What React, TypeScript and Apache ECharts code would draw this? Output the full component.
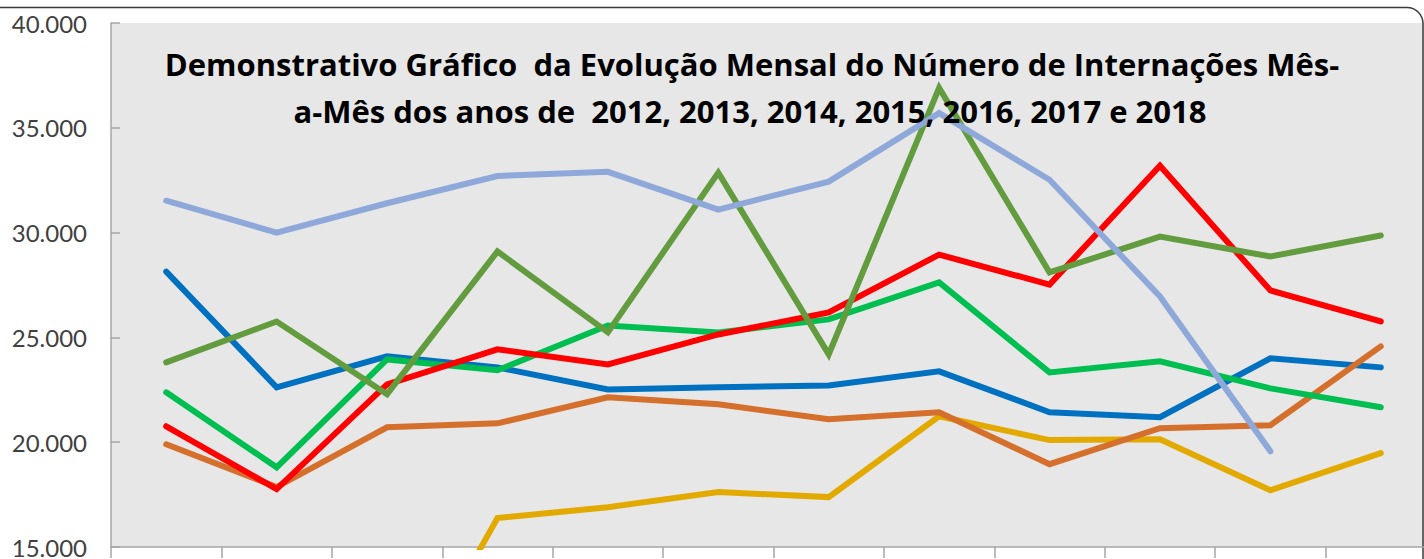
import React, { useEffect, useRef } from 'react';
import * as echarts from 'echarts';

const months = ['Jan', 'Fev', 'Mar', 'Abr', 'Mai', 'Jun', 'Jul', 'Ago', 'Set', 'Out', 'Nov', 'Dez'];
const yTicks = [15000, 20000, 25000, 30000, 35000, 40000];

const serieAzul = [28140, 22620, 24100, 23570, 22520, 22620, 22710, 23380, 21430, 21190, 24000, 23570];
const serieAmarela = [null, null, 7000, 16380, 16900, 17620, 17380, 21240, 20100, 20140, 17710, 19480];
const serieLaranja = [19900, 17860, 20710, 20900, 22140, 21810, 21100, 21430, 18950, 20670, 20810, 24570];
const serieVerdeClaro = [22380, 18800, 23950, 23430, 25570, 25240, 25860, 27620, 23330, 23860, 22570, 21670];
const serieVermelha = [20760, 17760, 22760, 24430, 23710, 25140, 26190, 28950, 27520, 33190, 27240, 25760];
const serieVerdeEscuro = [23810, 25760, 22290, 29100, 25240, 32860, 24190, 36900, 28100, 29810, 28860, 29860];
const serieLilas = [31520, 30000, 31400, 32700, 32900, 31100, 32430, 35700, 32520, 26950, 19570, null];

const titleLine1 = 'Demonstrativo Gráfico  da Evolução Mensal do Número de Internações Mês-';
const titleLine2 = 'a-Mês dos anos de  2012, 2013, 2014, 2015, 2016, 2017 e 2018';

const fmt = (v: number) => String(v).replace(/\B(?=(\d{3})+(?!\d))/g, '.');

export default function App() {
  const ref = useRef<HTMLDivElement>(null);
  useEffect(() => {
    if (!ref.current) return;
    const chart = echarts.init(ref.current, undefined, { renderer: 'svg' });
    const mk = (name: string, data: (number | null)[], color: string) => ({
      name,
      type: 'line',
      data,
      symbol: 'none',
      connectNulls: false,
      clip: true,
      lineStyle: { color, width: 6, cap: 'round', join: 'miter' },
      itemStyle: { color },
      emphasis: { disabled: true },
    });
    chart.setOption({
      animation: false,
      backgroundColor: '#ffffff',
      grid: {
        left: 111,
        top: 23,
        right: 0,
        bottom: 11,
        show: true,
        backgroundColor: '#E7E7E7',
        borderWidth: 0,
      },
      xAxis: {
        type: 'category',
        data: months,
        boundaryGap: true,
        axisLine: { show: true, lineStyle: { color: '#A6A6A6', width: 1.5 } },
        axisTick: { show: true, inside: false, length: 11, lineStyle: { color: '#A6A6A6', width: 1.5 } },
        axisLabel: { show: false },
        splitLine: { show: false },
      },
      yAxis: {
        type: 'value',
        min: yTicks[0],
        max: yTicks[yTicks.length - 1],
        interval: 5000,
        axisLine: { show: true, lineStyle: { color: '#A6A6A6', width: 1.5 } },
        axisTick: { show: true, inside: true, length: 9, lineStyle: { color: '#A6A6A6', width: 1.5 } },
        axisLabel: {
          show: true,
          margin: 24,
          color: '#404040',
          fontFamily: 'Lato',
          fontSize: 24,
          formatter: (v: number) => fmt(v),
        },
        splitLine: { show: false },
      },
      series: [
        mk('2012', serieAzul, '#0070C0'),
        mk('2013', serieAmarela, '#E2AA00'),
        mk('2014', serieLaranja, '#D5702C'),
        mk('2015', serieVerdeClaro, '#00BF50'),
        mk('2016', serieVermelha, '#FF0000'),
        mk('2017', serieVerdeEscuro, '#629C3F'),
        mk('2018', serieLilas, '#8FA8DA'),
      ],
      graphic: [
        {
          type: 'rect',
          z: 0,
          silent: true,
          shape: { x: -30, y: 7.5, width: 1453, height: 620, r: 16 },
          style: { fill: 'none', stroke: '#3A3A3A', lineWidth: 1.5 },
        },
        {
          type: 'text',
          z: 100,
          silent: true,
          x: 752,
          y: 64,
          style: {
            text: titleLine1,
            font: 'bold 31px "Open Sans"',
            fill: '#000000',
            align: 'center',
            verticalAlign: 'middle',
          },
        },
        {
          type: 'text',
          z: 100,
          silent: true,
          x: 750,
          y: 111,
          style: {
            text: titleLine2,
            font: 'bold 31px "Open Sans"',
            fill: '#000000',
            align: 'center',
            verticalAlign: 'middle',
          },
        },
      ],
    });
    return () => chart.dispose();
  }, []);
  return (
    <div style={{ position: 'absolute', left: 0, top: 0, width: 1424, height: 559, overflow: 'hidden' }}>
      <div ref={ref} style={{ width: 1436, height: 559 }} />
    </div>
  );
}
